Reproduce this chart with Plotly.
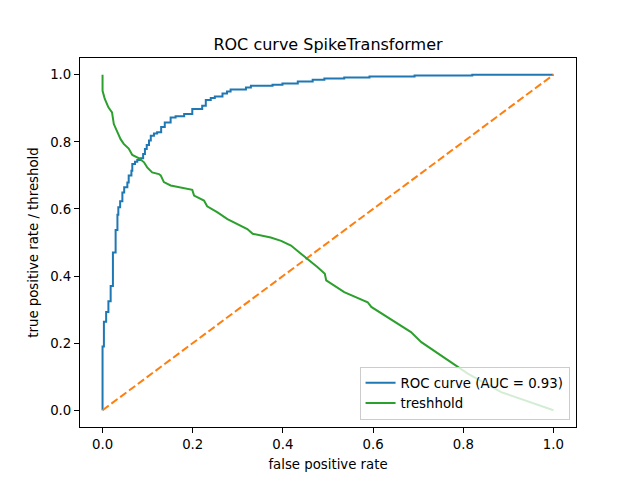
import plotly.graph_objects as go

# ROC curve (stair corners: at fpr[i] the curve has risen to tpr[i])
roc_fpr = [0.0, 0.0, 0.003, 0.008, 0.013, 0.018, 0.023, 0.029, 0.033, 0.035, 0.039,
           0.044, 0.048, 0.055, 0.058, 0.064, 0.066, 0.072, 0.077, 0.084, 0.09,
           0.094, 0.098, 0.103, 0.107, 0.114, 0.121, 0.13, 0.138, 0.151, 0.162,
           0.181, 0.199, 0.221, 0.229, 0.24, 0.249, 0.266, 0.276, 0.284, 0.318,
           0.329, 0.377, 0.399, 0.433, 0.466, 0.492, 0.536, 0.592, 0.692, 0.82, 1.0]
roc_tpr = [0.0, 0.19, 0.264, 0.293, 0.325, 0.37, 0.47, 0.537, 0.583, 0.605, 0.623,
           0.649, 0.665, 0.679, 0.70, 0.714, 0.734, 0.741, 0.746, 0.751, 0.764,
           0.779, 0.791, 0.804, 0.818, 0.825, 0.829, 0.844, 0.858, 0.873, 0.876,
           0.883, 0.898, 0.908, 0.925, 0.931, 0.935, 0.944, 0.95, 0.956, 0.962,
           0.967, 0.970, 0.974, 0.98, 0.985, 0.989, 0.992, 0.995, 0.998, 1.0, 1.0]

# Threshold curve
thr_fpr = [0.0, 0.0, 0.005, 0.013, 0.021, 0.025, 0.033, 0.04, 0.047, 0.058, 0.066,
           0.081, 0.092, 0.099, 0.11, 0.125, 0.129, 0.136, 0.151, 0.173, 0.199,
           0.203, 0.225, 0.232, 0.255, 0.277, 0.321, 0.333, 0.373, 0.396, 0.418,
           0.436, 0.455, 0.477, 0.493, 0.496, 0.536, 0.588, 0.596, 0.684, 0.707,
           0.81, 0.884, 1.0]
thr_val = [1.0, 0.952, 0.928, 0.903, 0.888, 0.853, 0.829, 0.808, 0.794, 0.78, 0.761,
           0.751, 0.739, 0.724, 0.709, 0.704, 0.70, 0.68, 0.67, 0.663, 0.657,
           0.64, 0.625, 0.608, 0.59, 0.57, 0.54, 0.526, 0.515, 0.505, 0.491,
           0.471, 0.451, 0.426, 0.407, 0.387, 0.352, 0.322, 0.308, 0.233, 0.203,
           0.109, 0.054, 0.0]

diag = [0.0, 1.0]
auc_label = "ROC curve (AUC = 0.93)"
thr_label = "treshhold"
tick_vals = [0.0, 0.2, 0.4, 0.6, 0.8, 1.0]
tick_text = ["0.0", "0.2", "0.4", "0.6", "0.8", "1.0"]

FONT = "DejaVu Sans, Liberation Sans, sans-serif"

fig = go.Figure()
fig.add_trace(go.Scatter(x=roc_fpr, y=roc_tpr, mode="lines", name=auc_label,
                         line=dict(color="#1f77b4", width=2, shape="hv")))
fig.add_trace(go.Scatter(x=diag, y=diag, mode="lines", showlegend=False,
                         line=dict(color="#ff7f0e", width=2, dash="7.7px,3.3px")))
fig.add_trace(go.Scatter(x=thr_fpr, y=thr_val, mode="lines", name=thr_label,
                         line=dict(color="#2ca02c", width=2)))

axis_common = dict(range=[-0.05, 1.05], showgrid=False, zeroline=False,
                   showline=True, linecolor="black", linewidth=1.1, mirror=True,
                   ticks="outside", ticklen=5, tickwidth=1.1, tickcolor="black",
                   tickvals=tick_vals, ticktext=tick_text,
                   tickfont=dict(family=FONT, size=13.3, color="black"))

fig.update_layout(
    width=640, height=480,
    margin=dict(l=72, r=72, t=49.6, b=60.8),
    paper_bgcolor="white", plot_bgcolor="white",
    font=dict(family=FONT, color="black"),
    title=dict(text="ROC curve SpikeTransformer", x=0.5, xref="paper",
               xanchor="center", y=1 - 36 / 480, yanchor="middle",
               font=dict(family=FONT, size=16, color="black")),
    xaxis=dict(axis_common, title=dict(text="false positive rate", standoff=8,
                                       font=dict(family=FONT, size=13.3))),
    yaxis=dict(axis_common, title=dict(text="true positive rate / threshold", standoff=8,
                                       font=dict(family=FONT, size=13.3))),
    legend=dict(x=0.987, y=0.02, xanchor="right", yanchor="bottom",
                bgcolor="rgba(255,255,255,0.8)", bordercolor="#cccccc", borderwidth=1,
                font=dict(family=FONT, size=13.3, color="black"),
                tracegroupgap=0, itemwidth=30),
    showlegend=True,
)

fig.write_html("out.html")
